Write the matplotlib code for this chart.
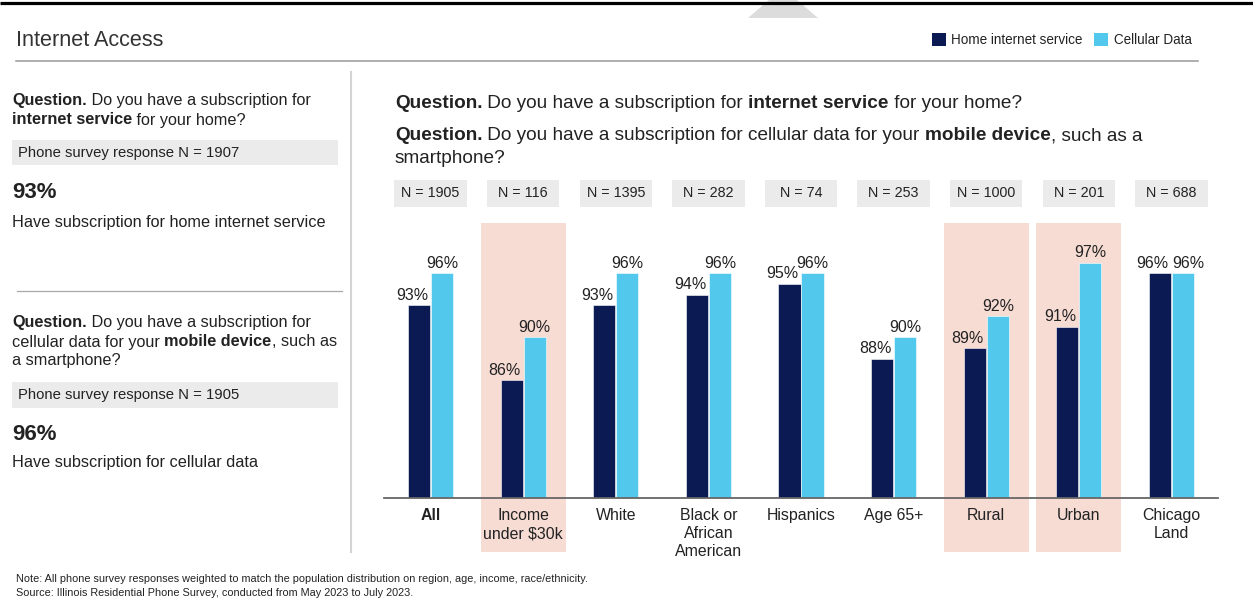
import matplotlib
matplotlib.use("Agg")
import matplotlib.pyplot as plt
from matplotlib.patches import Rectangle, Polygon
from matplotlib import transforms

plt.rcParams['font.family'] = ['Liberation Sans', 'DejaVu Sans']

# ---- data ----
categories = ["All", "Income\nunder $30k", "White", "Black or\nAfrican\nAmerican",
              "Hispanics", "Age 65+", "Rural", "Urban", "Chicago\nLand"]
home_internet = [93, 86, 93, 94, 95, 88, 89, 91, 96]
cellular_data = [96, 90, 96, 96, 96, 90, 92, 97, 96]
sample_sizes = [1905, 116, 1395, 282, 74, 253, 1000, 201, 688]
highlighted = ["Income\nunder $30k", "Rural", "Urban"]

overall_home = 93
overall_cell = 96
n_home = 1907
n_cell = 1905

NAVY = "#0c1a54"
CYAN = "#52c8ec"
PINK = "#f7dcd4"
BOXGRAY = "#ebebeb"
TXT = "#222222"

W, H = 1253, 603
fig = plt.figure(figsize=(W / 100, H / 100), dpi=100)

# overlay axes in pixel units for the page furniture
ax0 = fig.add_axes([0, 0, 1, 1], zorder=0)
ax0.set_xlim(0, W)
ax0.set_ylim(H, 0)
ax0.axis("off")
renderer = fig.canvas.get_renderer()


def seg_width(s, size, weight):
    t1 = ax0.text(0, 0, "|" + s + "|", fontsize=size, fontweight=weight)
    t2 = ax0.text(0, 0, "||", fontsize=size, fontweight=weight)
    w = t1.get_window_extent(renderer).width - t2.get_window_extent(renderer).width
    t1.remove()
    t2.remove()
    return w


def rich(x, y, parts, size, color=TXT):
    for s, weight in parts:
        ax0.text(x, y, s, fontsize=size, fontweight=weight, color=color,
                 ha="left", va="baseline")
        x += seg_width(s, size, weight)


# top rule and tab marker
ax0.add_patch(Polygon([[748, 18], [818, 18], [783, -12]], closed=True,
                      facecolor="#dcdcdc", edgecolor="none"))
ax0.plot([0, W], [2.5, 2.5], color="black", lw=2.3, solid_capstyle="butt")

# title and legend
ax0.text(16, 46.5, "Internet Access", fontsize=15.6, color="#333333", va="baseline")
ax0.plot([16, 1198], [61, 61], color="#9a9a9a", lw=1.1)
ax0.add_patch(Rectangle((932, 33), 14, 13, facecolor=NAVY, edgecolor="none"))
ax0.text(951, 44.5, "Home internet service", fontsize=9.75, color=TXT, va="baseline")
ax0.add_patch(Rectangle((1094, 33), 14, 13, facecolor=CYAN, edgecolor="none"))
ax0.text(1113.5, 44.5, "Cellular Data", fontsize=9.75, color=TXT, va="baseline")

# panel divider
ax0.plot([351, 351], [72, 552], color="#d4d4d4", lw=1.5)

# left panel: home internet
LS = 11.7
rich(12, 105.5, [("Question.", "bold"), (" Do you have a subscription for", "normal")], LS)
rich(12, 124.5, [("internet service", "bold"), (" for your home?", "normal")], LS)
ax0.add_patch(Rectangle((12, 140), 326, 25, facecolor=BOXGRAY, edgecolor="none"))
ax0.text(18, 157, f"Phone survey response N = {n_home}", fontsize=10.7, color=TXT, va="baseline")
ax0.text(12, 198.5, f"{overall_home}%", fontsize=16, fontweight="bold", color=TXT, va="baseline")
ax0.text(12, 226.5, "Have subscription for home internet service", fontsize=LS, color=TXT, va="baseline")

ax0.plot([17, 342], [291, 291], color="#a8a8a8", lw=0.9)

# left panel: cellular data
rich(12, 327.5, [("Question.", "bold"), (" Do you have a subscription for", "normal")], LS)
rich(12, 346.5, [("cellular data for your ", "normal"), ("mobile device", "bold"),
                 (", such as", "normal")], LS)
rich(12, 365.5, [("a smartphone?", "normal")], LS)
ax0.add_patch(Rectangle((12, 382), 326, 26, facecolor=BOXGRAY, edgecolor="none"))
ax0.text(18, 399.5, f"Phone survey response N = {n_cell}", fontsize=10.7, color=TXT, va="baseline")
ax0.text(12, 440.5, f"{overall_cell}%", fontsize=16, fontweight="bold", color=TXT, va="baseline")
ax0.text(12, 467.5, "Have subscription for cellular data", fontsize=LS, color=TXT, va="baseline")

# right panel questions
RS = 13.65
rich(395, 107.5, [("Question.", "bold"), (" Do you have a subscription for ", "normal"),
                  ("internet service", "bold"), (" for your home?", "normal")], RS)
rich(395, 140.5, [("Question.", "bold"),
                  (" Do you have a subscription for cellular data for your ", "normal"),
                  ("mobile device", "bold"), (", such as a", "normal")], RS)
rich(395, 163, [("smartphone?", "normal")], RS)

# footnotes
ax0.text(16, 582.5, "Note: All phone survey responses weighted to match the population "
         "distribution on region, age, income, race/ethnicity.", fontsize=7.8, color=TXT,
         va="baseline")
ax0.text(16, 596, "Source: Illinois Residential Phone Survey, conducted from May 2023 to July 2023.",
         fontsize=7.8, color=TXT, va="baseline")

# ---- bar chart ----
ax_left, ax_right = 384.3, 1217.7
ax_bottom, ax_top = 498.0, 223.0
ax = fig.add_axes([ax_left / W, (H - ax_bottom) / H, (ax_right - ax_left) / W,
                   (ax_bottom - ax_top) / H], zorder=1)
ax.patch.set_alpha(0)

x = list(range(len(categories)))
off = 0.125
bw = 0.24
ax.set_xlim(-0.5, len(categories) - 0.5)
ax.set_ylim(75, 100.7)

blend = transforms.blended_transform_factory(ax.transData, ax.transAxes)
box_bottom = -(552 - ax_bottom) / (ax_bottom - ax_top)
nb_lo = (ax_bottom - 206.5) / (ax_bottom - ax_top)
nb_hi = (ax_bottom - 180.0) / (ax_bottom - ax_top)

for i, cat in enumerate(categories):
    if cat in highlighted:
        ax.add_patch(Rectangle((i - 0.46, box_bottom), 0.92, 1 - box_bottom,
                               transform=blend, facecolor=PINK, edgecolor="none",
                               clip_on=False, zorder=0))
    # sample size tag
    ax.add_patch(Rectangle((i - 0.39, nb_lo), 0.78, nb_hi - nb_lo, transform=blend,
                           facecolor=BOXGRAY, edgecolor="none", clip_on=False, zorder=0))
    ax.text(i, (nb_lo + nb_hi) / 2, f"N = {sample_sizes[i]}", transform=blend,
            ha="center", va="center", fontsize=10.3, color=TXT, clip_on=False)

xh = [v - off for v in x]
xc = [v + off for v in x]
ax.bar(xh, home_internet, bw, color=NAVY, edgecolor="white", linewidth=0.4, zorder=2)
ax.bar(xc, cellular_data, bw, color=CYAN, edgecolor="white", linewidth=0.4, zorder=2)

for xi, v, c in zip(xh, home_internet, cellular_data):
    dx = -5.5 if v == c else -5
    ax.annotate(f"{v}%", (xi, v), xytext=(dx, 4), textcoords="offset points",
                ha="center", va="baseline", fontsize=11.5, color=TXT)
for xi, v, h in zip(xc, cellular_data, home_internet):
    dx = 4 if v == h else 0   # spread labels apart when both bars are level
    ax.annotate(f"{v}%", (xi, v), xytext=(dx, 4), textcoords="offset points",
                ha="center", va="baseline", fontsize=11.5, color=TXT)

ax.set_xticks(x)
ax.set_xticklabels(categories, fontsize=11.4, color=TXT, linespacing=1.22)
ax.get_xticklabels()[0].set_fontweight("bold")
ax.tick_params(axis="x", length=0, pad=7.5)
ax.set_yticks([])
for side in ("top", "left", "right"):
    ax.spines[side].set_visible(False)
ax.spines["bottom"].set_color("#666666")
ax.spines["bottom"].set_linewidth(1.3)

fig.savefig("out.png", dpi=100)
